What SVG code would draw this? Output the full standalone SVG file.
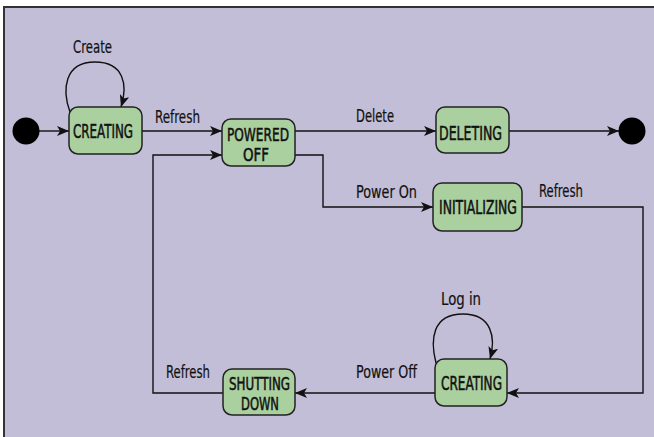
<svg xmlns="http://www.w3.org/2000/svg" width="654" height="437" viewBox="0 0 654 437">
<style>
.node rect{fill:#abd0a0;stroke:#222;stroke-width:1.5}
.t{font-family:"DejaVu Sans Condensed","DejaVu Sans","Liberation Sans",sans-serif;font-stretch:condensed;fill:#111}
.nt{font-size:19px;text-anchor:middle;stroke:#111;stroke-width:0.5}
.nt2{font-size:17px}
.lt{font-size:17px;stroke:#111;stroke-width:0.2}
.c path{fill:none;stroke:#111;stroke-width:1.4}
</style>
<defs>
<marker id="ah" viewBox="0 0 12 10" refX="12" refY="5" markerWidth="12" markerHeight="10" markerUnits="userSpaceOnUse" orient="auto">
<path d="M0,0 L12,5 L0,10 L3,5 Z" fill="#111"/>
</marker>
</defs>
<rect x="0" y="0" width="654" height="437" fill="#ffffff"/>
<rect x="4" y="7" width="650" height="430" fill="#c3bed8"/>
<path d="M4,437 V7 H654" fill="none" stroke="#333" stroke-width="2"/>
<g class="c" id="connectors">
<path d="M39,131 H69" marker-end="url(#ah)"/>
<path d="M142,131 H222" marker-end="url(#ah)"/>
<path d="M70,112 C62,90 64,62 95,62 C124,62 128,85 121,107" marker-end="url(#ah)"/>
<path d="M295,131 H436" marker-end="url(#ah)"/>
<path d="M509,131 H619" marker-end="url(#ah)"/>
<path d="M295,155 H323 V207 H433" marker-end="url(#ah)"/>
<path d="M522,207 H643 V393 H507" marker-end="url(#ah)"/>
<path d="M436,363 C430,340 432,314 463,314 C492,314 496,338 490,359" marker-end="url(#ah)"/>
<path d="M435,393 H295" marker-end="url(#ah)"/>
<path d="M223,393 H153 V155 H222" marker-end="url(#ah)"/>
</g>
<g id="labels" class="t lt">
<text x="73" y="53" textLength="39" lengthAdjust="spacingAndGlyphs">Create</text>
<text x="155" y="123" textLength="45" lengthAdjust="spacingAndGlyphs">Refresh</text>
<text x="356" y="122" textLength="38" lengthAdjust="spacingAndGlyphs">Delete</text>
<text x="356" y="198" textLength="61" lengthAdjust="spacingAndGlyphs">Power On</text>
<text x="539" y="197" textLength="44" lengthAdjust="spacingAndGlyphs">Refresh</text>
<text x="441" y="305" textLength="40" lengthAdjust="spacingAndGlyphs">Log in</text>
<text x="356" y="378" textLength="61" lengthAdjust="spacingAndGlyphs">Power Off</text>
<text x="166" y="378" textLength="44" lengthAdjust="spacingAndGlyphs">Refresh</text>
</g>
<g id="initial"><circle cx="26" cy="131" r="13.5" fill="#000"/></g>
<g id="final"><circle cx="632" cy="131" r="13.5" fill="#000"/></g>
<g class="node" id="creating1"><rect x="69" y="107" width="73" height="47" rx="9"/><text class="t nt" x="103" y="138" textLength="60" lengthAdjust="spacingAndGlyphs">CREATING</text></g>
<g class="node" id="poweredoff"><rect x="222" y="119" width="73" height="47" rx="9"/><text class="t nt nt2" x="258" y="141" textLength="62" lengthAdjust="spacingAndGlyphs">POWERED</text><text class="t nt nt2" x="256" y="161" textLength="26" lengthAdjust="spacingAndGlyphs">OFF</text></g>
<g class="node" id="deleting"><rect x="436" y="107" width="73" height="46" rx="9"/><text class="t nt" x="470.5" y="140" textLength="63" lengthAdjust="spacingAndGlyphs">DELETING</text></g>
<g class="node" id="initializing"><rect x="433" y="183" width="89" height="48" rx="9"/><text class="t nt" x="478" y="214" textLength="78" lengthAdjust="spacingAndGlyphs">INITIALIZING</text></g>
<g class="node" id="creating2"><rect x="435" y="359" width="72" height="47" rx="9"/><text class="t nt" x="471.5" y="390" textLength="61" lengthAdjust="spacingAndGlyphs">CREATING</text></g>
<g class="node" id="shuttingdown"><rect x="223" y="369" width="72" height="46" rx="9"/><text class="t nt nt2" x="259.5" y="390" textLength="61" lengthAdjust="spacingAndGlyphs">SHUTTING</text><text class="t nt nt2" x="260" y="410" textLength="38" lengthAdjust="spacingAndGlyphs">DOWN</text></g>
</svg>
